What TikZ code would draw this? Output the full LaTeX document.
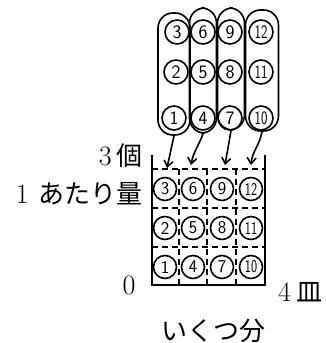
\documentclass[tikz,border=0pt]{standalone}
\usepackage{fontspec}
\newfontfamily\jp{Noto Sans CJK JP}
\usetikzlibrary{arrows.meta}
\newcommand{\twod}[1]{\scalebox{0.72}[1]{#1}}
\begin{document}
\begin{tikzpicture}[x=1pt,y=-1pt,
  ink/.style={line width=1.6pt, black},
  num/.style={circle, draw, ink, minimum size=24pt, inner sep=0pt, font=\sffamily\fontsize{19}{19}\selectfont},
  bnum/.style={num, minimum size=23pt, font=\sffamily\fontsize{18}{18}\selectfont},
  ovalbox/.style={draw, ink, rounded corners=15pt, inner sep=0pt},
  grid/.style={line width=1.2pt, dash pattern=on 6pt off 4pt},
  arr/.style={ink, -{Straight Barb[length=6pt,width=9pt,line width=1.6pt]}},
  lab/.style={font=\fontsize{28}{28}\selectfont, inner sep=0pt}
]
\useasboundingbox (0,0) rectangle (326,343);
% ovals
\node[ovalbox, minimum width=32pt, minimum height=122pt] (o1) at (174,74) {};
\node[ovalbox, minimum width=27pt, minimum height=125pt] (o2) at (203,70.5) {};
\node[ovalbox, minimum width=27pt, minimum height=122pt] (o3) at (231,69) {};
\node[ovalbox, minimum width=33pt, minimum height=121pt] (o4) at (262,70.5) {};
% top numbered circles
\node[num] (a3) at (177,32) {3};
\node[num] (a2) at (176,72) {2};
\node[num] (a1) at (174,118) {1};
\node[num] (a6) at (203,32) {6};
\node[num] (a5) at (203,72) {5};
\node[num] (a4) at (203,118) {4};
\node[num] (a9) at (230,32) {9};
\node[num] (a8) at (230,72) {8};
\node[num] (a7) at (230,118) {7};
\node[num] (a12) at (261,32) {\twod{12}};
\node[num] (a11) at (261,72) {\twod{11}};
\node[num] (a10) at (261,118) {\twod{10}};
% arrow targets
\coordinate (t1) at (167,168);
\coordinate (t2) at (191,165);
\coordinate (t3) at (225,165);
\coordinate (t4) at (251,165);
\draw[arr] (o1.south) -- (t1);
\draw[arr] (o2.south) to[out=250,in=80] (t2);
\draw[arr] (o3.south) -- (t3);
\draw[arr] (o4.south) to[out=260,in=85] (t4);
% box
\coordinate (bl) at (152,285);
\coordinate (br) at (265,285);
\coordinate (tl) at (152,155);
\coordinate (tr) at (265,155);
\draw[ink] (tl) -- (bl) -- (br) -- (tr);
\foreach \y in {169,208,247} \draw[grid] (152,\y) -- (265,\y);
\foreach \x in {179,207,236} \draw[grid] (\x,169) -- (\x,285);
% box circles
\node[bnum] (b3) at (165,189) {3};
\node[bnum] (b6) at (193,189) {6};
\node[bnum] (b9) at (222,189) {9};
\node[bnum] (b12) at (251,189) {\twod{12}};
\node[bnum] (b2) at (165,228) {2};
\node[bnum] (b5) at (193,228) {5};
\node[bnum] (b8) at (222,228) {8};
\node[bnum] (b11) at (251,228) {\twod{11}};
\node[bnum] (b1) at (165,267) {1};
\node[bnum] (b4) at (193,267) {4};
\node[bnum] (b7) at (222,267) {7};
\node[bnum] (b10) at (251,267) {\twod{10}};
% labels
\node[lab, anchor=east] (l3) at (143,156) {3\hspace{5pt}{\jp\fontsize{26}{26}\selectfont 個}};
\node[lab, anchor=east] (l1) at (143,194) {1\hspace{10pt}{\jp\fontsize{26}{26}\selectfont あたり量}};
\node[lab] (l0) at (129,285) {0};
\node[lab, anchor=west] (l4) at (278,292) {4\hspace{5pt}{\jp\fontsize{26}{26}\selectfont 皿}};
\node[lab] (lk) at (213,331) {\jp\fontsize{26}{26}\selectfont いくつ分};
\end{tikzpicture}
\end{document}
